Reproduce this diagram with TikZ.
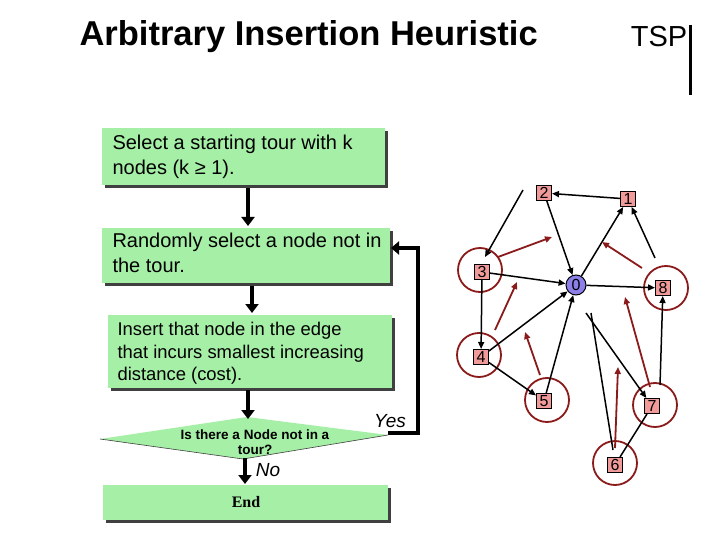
\documentclass[tikz,border=0pt]{standalone}
\usepackage{fontspec}
\setmainfont{Liberation Sans}
\newfontfamily\endserif{Liberation Serif}
\usetikzlibrary{arrows.meta,shapes.geometric}
\definecolor{boxg}{HTML}{A6EFA6}
\definecolor{shad}{HTML}{404040}
\definecolor{pinkn}{HTML}{F09A9A}
\definecolor{dred}{HTML}{8B1A1A}
\definecolor{bluen}{HTML}{8C7FE8}
\begin{document}
\begin{tikzpicture}[x=1pt,y=-1pt,
  farr/.style={line width=4pt,-{Triangle[length=9pt,width=13pt]}},
  sq/.style={draw=black,line width=1pt,fill=pinkn,minimum size=15pt,inner sep=0pt,font=\fontsize{16}{17}\selectfont},
  ring/.style={draw=dred,line width=1.8pt,circle,minimum size=44pt},
  bl/.style={line width=1.5pt,-{Triangle[length=7pt,width=6pt]}},
  rd/.style={line width=1.8pt,dred,-{Triangle[length=7pt,width=6pt]}}]
\useasboundingbox (0,0) rectangle (720,540);
\fill[white] (0,0) rectangle (720,540);
% title
\node[anchor=west,font=\bfseries\fontsize{34.5}{38}\selectfont] (title) at (76,37) {Arbitrary Insertion Heuristic};
\node[font=\fontsize{29}{32}\selectfont] (tsp) at (659,37) {TSP};
\draw[line width=3pt] (690,25) -- (690,95);
% flowchart boxes with shadows
\foreach \a/\b/\c/\d in {102/128/385/185,102/228/390/283,108/315/392/388,103/485/388/520}{
  \fill[shad] (\a+3,\b+3) rectangle (\c+3,\d+3);
  \fill[boxg] (\a,\b) rectangle (\c,\d);}
\node[anchor=north west,align=left,font=\fontsize{20}{25}\selectfont] (b1) at (109,131) {Select a starting tour with k\\nodes (k ≥ 1).};
\node[anchor=north west,align=left,font=\fontsize{20}{25}\selectfont] (b2) at (109,229) {Randomly select a node not in\\the tour.};
\node[anchor=north west,align=left,font=\fontsize{18.4}{22.5}\selectfont] (b3) at (114,319) {Insert that node in the edge\\that incurs smallest increasing\\distance (cost).};
\coordinate (dl) at (100,439); \coordinate (dt) at (247,417);
\coordinate (dr) at (388,435); \coordinate (db) at (243,459);
\fill[boxg] (dl) -- (dt) -- (dr) -- (db) -- cycle;
\draw[shad,line width=0.6pt] (dl) -- (db) -- (dr);
\node[font=\bfseries\fontsize{13.5}{15.5}\selectfont,align=center] (dq) at (255,442) {Is there a Node not in a\\tour?};
\node[font=\endserif\bfseries\fontsize{16}{18}\selectfont] (end) at (246,502) {End};
\coordinate (a1s) at (248,188); \coordinate (a1e) at (248,226);
\coordinate (a2s) at (252,286); \coordinate (a2e) at (252,313);
\coordinate (a3s) at (248,390); \coordinate (a3e) at (248,419);
\coordinate (a4s) at (245,458); \coordinate (a4e) at (245,484);
\draw[farr] (a1s) -- (a1e);
\draw[farr] (a2s) -- (a2e);
\draw[farr] (a3s) -- (a3e);
\draw[farr] (a4s) -- (a4e);
\draw[line width=4pt,-{Triangle[length=8pt,width=13pt]}] (388,433) -- (418,433) -- (418,248) -- (391,248);
\node[font=\itshape\fontsize{19}{21}\selectfont] (yes) at (390,421) {Yes};
\node[font=\itshape\fontsize{19}{21}\selectfont] (no) at (268,470) {No};
% graph
\node[ring] (r3) at (480,270) {};
\node[ring] (r4) at (479,355) {};
\node[ring] (r5) at (547,400) {};
\node[ring] (r7) at (655,405) {};
\node[ring] (r8) at (666,288) {};
\node[ring] (r6) at (615,463) {};
\node[sq] (n2) at (544,193) {2};
\node[sq] (n1) at (628,199) {1};
\node[sq] (n3) at (482,272) {3};
\node[sq] (n8) at (663,288) {8};
\node[sq] (n4) at (481,357) {4};
\node[sq] (n5) at (544,401) {5};
\node[sq] (n7) at (652,406) {7};
\node[sq] (n6) at (615,465) {6};
\node[circle,draw=black,line width=1pt,fill=bluen,minimum size=20pt,inner sep=0pt,font=\fontsize{16}{17}\selectfont] (n0) at (576,285) {0};
\draw[bl] (523,190) -- (485,257);
\draw[bl] (n2) -- (n0);
\draw[bl] (n0) -- (n1);
\draw[bl] (n1) -- (n2);
\draw[bl] (655,258) -- (n1);
\draw[bl] (n3) -- (n0);
\draw[bl] (n3) -- (n4);
\draw[bl] (n4) -- (n0);
\draw[bl] (n4) -- (n5);
\draw[bl] (n5) -- (n0);
\draw[bl] (n0) -- (n8);
\draw[bl] (586,313) -- (n7);
\draw[line width=1.5pt] (591,313) -- (613,450);
\draw[bl] (660,385) -- (n8);
\draw[line width=1.5pt] (n6) -- (n7);
\draw[rd] (498,257) -- (552,237);
\draw[rd] (495,330) -- (517,282);
\draw[rd] (540,375) -- (525,332);
\draw[rd] (642,268) -- (602,242);
\draw[rd] (650,387) -- (625,297);
\draw[rd] (615,448) -- (618,367);
\end{tikzpicture}
\end{document}
